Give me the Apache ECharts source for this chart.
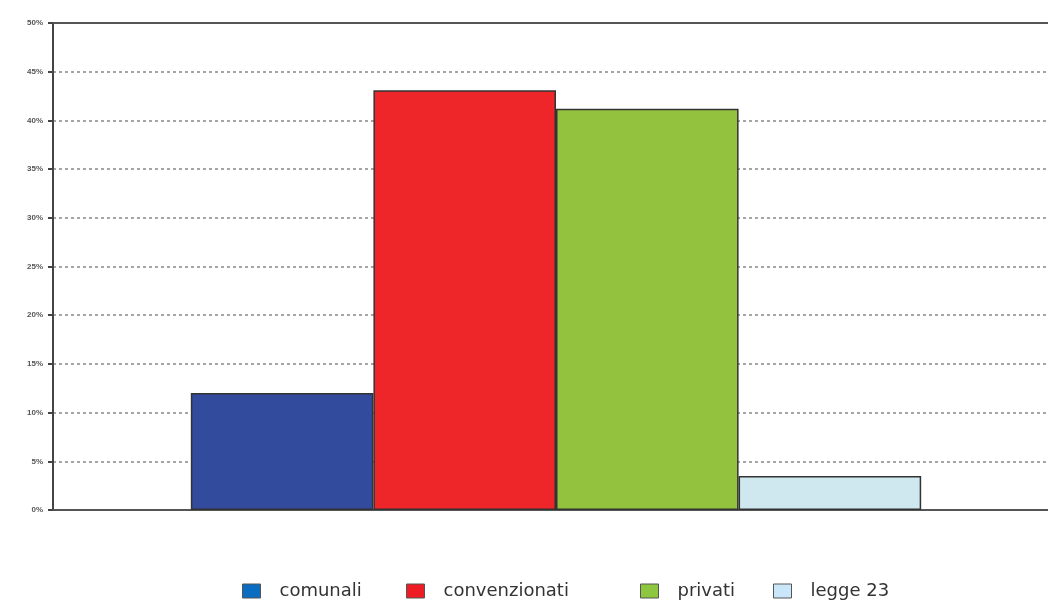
<!DOCTYPE html>
<html>
<head>
<meta charset="utf-8">
<script src="https://cdn.jsdelivr.net/npm/echarts@6/dist/echarts.min.js"></script>
<style>
  html, body { margin: 0; padding: 0; background: #fff; }
  #main { width: 1048px; height: 602px; }
</style>
</head>
<body>
<div id="main"></div>
<script>
// data
const categories = [''];
const seriesNames = ['comunali', 'convenzionati', 'privati', 'legge 23'];
const seriesValues = [12.0, 43.1, 41.2, 3.5];
const barColors = ['#324b9c', '#ee2529', '#93c23f', '#cfe8ef'];
const legendColors = ['#0a6dc1', '#ee1c25', '#8dc63f', '#c9e7f8'];
const legendLeft = [242, 406, 640, 773];
const yTicks = [0, 5, 10, 15, 20, 25, 30, 35, 40, 45, 50];

const myChart = echarts.init(document.getElementById('main'));

const option = {
  animation: false,
  backgroundColor: '#fff',
  grid: { left: 53, top: 23, bottom: 92, width: 1006, outerBoundsMode: 'none' },
  legend: seriesNames.map((n, i) => ({
    left: legendLeft[i],
    top: 582,
    padding: 0,
    itemWidth: 18,
    itemHeight: 14,
    itemGap: 0,
    data: [{ name: n, icon: 'rect', itemStyle: { color: legendColors[i], borderColor: '#555', borderWidth: 1 } }],
    textStyle: { fontFamily: 'DejaVu Sans', fontSize: 18, color: '#333', padding: [0, 0, 0, 14] }
  })),
  xAxis: [
    {
      type: 'category',
      data: categories,
      axisLine: { lineStyle: { color: '#555', width: 2 } },
      axisTick: { show: false },
      axisLabel: { show: false }
    },
    {
      type: 'category',
      position: 'top',
      data: categories,
      axisLine: { lineStyle: { color: '#555', width: 2 } },
      axisTick: { show: false },
      axisLabel: { show: false }
    }
  ],
  yAxis: {
    type: 'value',
    min: yTicks[0],
    max: yTicks[yTicks.length - 1],
    interval: 5,
    axisLine: { show: true, lineStyle: { color: '#444', width: 2 } },
    axisTick: { show: true, length: 5, lineStyle: { color: '#444', width: 2 } },
    axisLabel: {
      formatter: v => v + '%',
      fontFamily: 'Liberation Sans',
      fontSize: 8,
      fontWeight: 'bold',
      color: '#555',
      margin: 10
    },
    splitLine: { show: true, lineStyle: { color: '#888', type: [3, 3], width: 1.5 } }
  },
  series: seriesNames.map((n, i) => ({
    name: n,
    type: 'bar',
    data: [seriesValues[i]],
    barGap: '0%',
    barCategoryGap: '27.4%',
    itemStyle: { color: barColors[i], borderColor: '#333', borderWidth: 1.5 }
  }))
};

myChart.setOption(option);
window.addEventListener('resize', function () { myChart.resize(); });
</script>
</body>
</html>
